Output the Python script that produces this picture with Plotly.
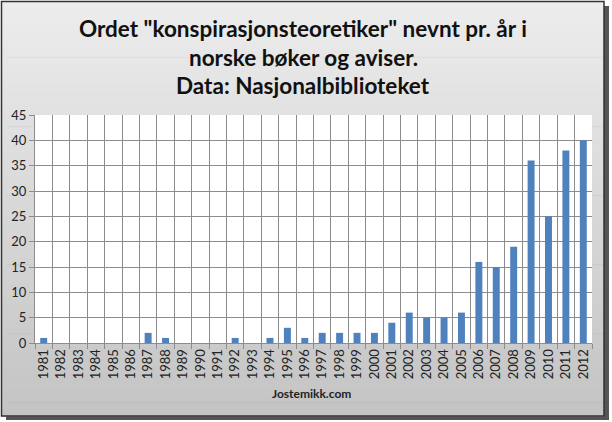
import plotly.graph_objects as go

years = [str(y) for y in range(1981, 2013)]
counts = [1, 0, 0, 0, 0, 0, 2, 1, 0, 0, 0, 1, 0, 1, 3, 1, 2, 2, 2, 2,
          4, 6, 5, 5, 6, 16, 15, 19, 36, 25, 38, 40]
y_ticks = [0, 5, 10, 15, 20, 25, 30, 35, 40, 45]
title_lines = ['Ordet "konspirasjonsteoretiker" nevnt pr. år i',
               'norske bøker og aviser.',
               'Data: Nasjonalbiblioteket']
footer = "Jostemikk.com"

W, H = 612, 422
fig = go.Figure()
fig.add_trace(go.Bar(x=years, y=counts, marker=dict(color="#4f81bd", line=dict(width=0))))

shapes = []
# shadow of frame
shapes.append(dict(type="rect", xref="paper", yref="paper", layer="below",
                   x0=(6 - 35) / 557, x1=(609 - 35) / 557,
                   y0=(343 - 420) / 228, y1=(343 - 6) / 228,
                   fillcolor="#555555", line=dict(width=0)))
# gradient background bands
n = 60
top, bot = 2, 416
for i in range(n):
    ya = top + (bot - top) * i / n
    yb = top + (bot - top) * (i + 1) / n + 0.6
    t = i / (n - 1)
    c0, c1 = (236, 236, 236), (196, 196, 196)
    col = tuple(int(round(c0[k] + (c1[k] - c0[k]) * t)) for k in range(3))
    shapes.append(dict(type="rect", xref="paper", yref="paper", layer="below",
                       x0=(2 - 35) / 557, x1=(604 - 35) / 557,
                       y0=(343 - yb) / 228, y1=(343 - ya) / 228,
                       fillcolor="rgb(%d,%d,%d)" % col, line=dict(width=0)))
# frame border
shapes.append(dict(type="rect", xref="paper", yref="paper", layer="below",
                   x0=(1.5 - 35) / 557, x1=(604 - 35) / 557,
                   y0=(343 - 416) / 228, y1=(343 - 1.5) / 228,
                   fillcolor="rgba(0,0,0,0)", line=dict(color="#333333", width=1.5)))
# white plot area
shapes.append(dict(type="rect", xref="paper", yref="paper", layer="below",
                   x0=0, x1=1, y0=0, y1=1, fillcolor="white", line=dict(width=0)))

annotations = []
for i, line in enumerate(title_lines):
    annotations.append(dict(text="<b>%s</b>" % line, xref="paper", yref="paper",
                            x=(303 - 35) / 557, y=(343 - (28.5 + 28.5 * i)) / 228,
                            xanchor="center", yanchor="middle", showarrow=False,
                            font=dict(family="Lato", size=22.5, color="#111111")))
annotations.append(dict(text="<b>%s</b>" % footer, xref="paper", yref="paper",
                        x=(311 - 35) / 557, y=(343 - 393) / 228, xanchor="center", yanchor="middle",
                        showarrow=False, font=dict(family="Lato", size=12, color="#222222")))

fig.update_layout(
    width=W, height=H,
    margin=dict(l=35, r=20, t=115, b=79),
    paper_bgcolor="rgba(0,0,0,0)", plot_bgcolor="white",
    bargap=0.6, showlegend=False,
    shapes=shapes, annotations=annotations,
    font=dict(family="Lato", size=12, color="#222222"),
)
fig.update_xaxes(type="category", tickson="boundaries", showgrid=True, gridcolor="#8c8c8c",
                 gridwidth=1, ticks="outside", ticklen=5, tickcolor="#8c8c8c",
                 tickangle=-90, showline=True, linecolor="#8c8c8c", mirror=False,
                 tickfont=dict(family="Lato", size=13, color="#222222"))
fig.update_yaxes(range=[0, 45], tickvals=y_ticks, showgrid=True, gridcolor="#8c8c8c",
                 gridwidth=1, ticks="outside", ticklen=5, tickcolor="#8c8c8c",
                 showline=True, linecolor="#8c8c8c", zeroline=False,
                 tickfont=dict(family="Lato", size=13, color="#222222"))
fig.write_html("out.html")
